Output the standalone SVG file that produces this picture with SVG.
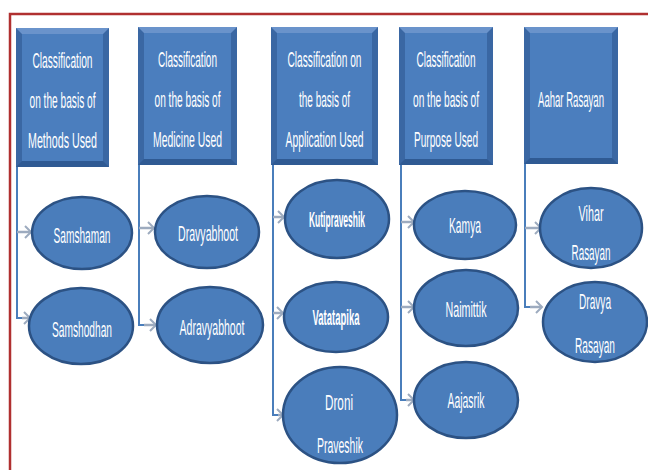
<svg xmlns="http://www.w3.org/2000/svg" width="648" height="470" viewBox="0 0 648 470">
<defs>
<style>
.bo{fill:#3a67a3}
.bt{fill:#6a93cb}
.bb{fill:#2f5a93}
.bf{fill:#4b7ebe}
.el{fill:#4a7dbb;stroke:#2c5284;stroke-width:2.5}
text{font-family:"Liberation Sans",Arial,sans-serif;fill:#ffffff;font-size:22px;text-anchor:middle}
.b{font-weight:bold}
.trunk{stroke:#4a7ebb;stroke-width:2;fill:none}
.branch{stroke:#9dabbf;stroke-width:2.5;fill:none;marker-end:url(#arr)}
.frame{stroke:#b03030;stroke-width:2.5;fill:none}
</style>
<marker id="arr" markerUnits="userSpaceOnUse" markerWidth="10" markerHeight="16" refX="7" refY="7" orient="auto">
<path d="M1,1 L7,7 L1,13" fill="none" stroke="#9dabbf" stroke-width="2"/>
</marker>
</defs>
<rect width="648" height="470" fill="#ffffff"/>
<path class="frame" d="M10,470 V14 H648"/>

<g id="connectors">
<path class="trunk" d="M17,167 V318 H22"/>
<path class="branch" d="M17,232 H31"/>
<path class="branch" d="M22,318 H30"/>
<path class="trunk" d="M139,165 V325 H144"/>
<path class="branch" d="M139,228 H154"/>
<path class="branch" d="M144,325 H156"/>
<path class="trunk" d="M273,165 V415 H278"/>
<path class="branch" d="M273,217 H284"/>
<path class="branch" d="M273,313 H283"/>
<path class="branch" d="M278,415 H283"/>
<path class="trunk" d="M401,165 V400 H406"/>
<path class="branch" d="M401,222 H414"/>
<path class="branch" d="M401,307 H414"/>
<path class="branch" d="M406,400 H414"/>
<path class="trunk" d="M525,164 V307 H530"/>
<path class="branch" d="M525,228 H541"/>
<path class="branch" d="M530,307 H542"/>
</g>

<g id="box-methods">
<rect class="bo" x="16" y="28" width="93" height="139"/>
<polygon class="bt" points="16,28 109,28 103,34 22,34"/>
<polygon class="bb" points="16,167 109,167 103,161 22,161"/>
<rect class="bf" x="22" y="34" width="81" height="127"/>
<text x="62.5" y="68" textLength="60" lengthAdjust="spacingAndGlyphs">Classification</text>
<text x="62.5" y="108" textLength="66" lengthAdjust="spacingAndGlyphs">on the basis of</text>
<text x="62.5" y="148" textLength="69" lengthAdjust="spacingAndGlyphs">Methods Used</text>
</g>
<g id="box-medicine">
<rect class="bo" x="138" y="27" width="99" height="138"/>
<polygon class="bt" points="138,27 237,27 231,33 144,33"/>
<polygon class="bb" points="138,165 237,165 231,159 144,159"/>
<rect class="bf" x="144" y="33" width="87" height="126"/>
<text x="187.5" y="67" textLength="59" lengthAdjust="spacingAndGlyphs">Classification</text>
<text x="187.5" y="107" textLength="66" lengthAdjust="spacingAndGlyphs">on the basis of</text>
<text x="187.5" y="147" textLength="69" lengthAdjust="spacingAndGlyphs">Medicine Used</text>
</g>
<g id="box-application">
<rect class="bo" x="271" y="27" width="107" height="138"/>
<polygon class="bt" points="271,27 378,27 372,33 277,33"/>
<polygon class="bb" points="271,165 378,165 372,159 277,159"/>
<rect class="bf" x="277" y="33" width="95" height="126"/>
<text x="324.5" y="67" textLength="74" lengthAdjust="spacingAndGlyphs">Classification on</text>
<text x="324.5" y="107" textLength="51" lengthAdjust="spacingAndGlyphs">the basis of</text>
<text x="324.5" y="147" textLength="78" lengthAdjust="spacingAndGlyphs">Application Used</text>
</g>
<g id="box-purpose">
<rect class="bo" x="399" y="27" width="94" height="138"/>
<polygon class="bt" points="399,27 493,27 487,33 405,33"/>
<polygon class="bb" points="399,165 493,165 487,159 405,159"/>
<rect class="bf" x="405" y="33" width="82" height="126"/>
<text x="446" y="67" textLength="59" lengthAdjust="spacingAndGlyphs">Classification</text>
<text x="446" y="107" textLength="66" lengthAdjust="spacingAndGlyphs">on the basis of</text>
<text x="446" y="147" textLength="64" lengthAdjust="spacingAndGlyphs">Purpose Used</text>
</g>
<g id="box-aahar">
<rect class="bo" x="524" y="27" width="94" height="137"/>
<polygon class="bt" points="524,27 618,27 612,33 530,33"/>
<polygon class="bb" points="524,164 618,164 612,158 530,158"/>
<rect class="bf" x="530" y="33" width="82" height="125"/>
<text x="571" y="107" textLength="66" lengthAdjust="spacingAndGlyphs">Aahar Rasayan</text>
</g>

<g id="samshaman"><ellipse class="el" cx="82" cy="233" rx="50" ry="36"/><text x="82" y="243" textLength="57" lengthAdjust="spacingAndGlyphs">Samshaman</text></g>
<g id="samshodhan"><ellipse class="el" cx="81" cy="326" rx="52" ry="38"/><text x="82" y="337" textLength="60" lengthAdjust="spacingAndGlyphs">Samshodhan</text></g>
<g id="dravyabhoot"><ellipse class="el" cx="207" cy="232" rx="52" ry="36"/><text x="208" y="241" textLength="60" lengthAdjust="spacingAndGlyphs">Dravyabhoot</text></g>
<g id="adravyabhoot"><ellipse class="el" cx="210" cy="325" rx="53" ry="38"/><text x="212" y="335" textLength="65" lengthAdjust="spacingAndGlyphs">Adravyabhoot</text></g>
<g id="kutipraveshik"><ellipse class="el" cx="337" cy="219" rx="52" ry="39"/><text class="b" x="337" y="227" textLength="56" lengthAdjust="spacingAndGlyphs">Kutipraveshik</text></g>
<g id="vatatapika"><ellipse class="el" cx="336" cy="317" rx="52" ry="35"/><text class="b" x="336" y="325" textLength="47" lengthAdjust="spacingAndGlyphs">Vatatapika</text></g>
<g id="droni"><ellipse class="el" cx="340" cy="415" rx="57" ry="48"/><text x="339" y="410" textLength="28" lengthAdjust="spacingAndGlyphs">Droni</text><text x="340" y="453" textLength="46" lengthAdjust="spacingAndGlyphs">Praveshik</text></g>
<g id="kamya"><ellipse class="el" cx="465" cy="225" rx="51" ry="34"/><text x="465" y="233" textLength="32" lengthAdjust="spacingAndGlyphs">Kamya</text></g>
<g id="naimittik"><ellipse class="el" cx="466" cy="308" rx="52" ry="38"/><text x="466" y="317" textLength="41" lengthAdjust="spacingAndGlyphs">Naimittik</text></g>
<g id="aajasrik"><ellipse class="el" cx="466" cy="400" rx="52" ry="38"/><text x="466" y="408" textLength="37" lengthAdjust="spacingAndGlyphs">Aajasrik</text></g>
<g id="vihar"><ellipse class="el" cx="591" cy="228" rx="51" ry="40"/><text x="591" y="221" textLength="25" lengthAdjust="spacingAndGlyphs">Vihar</text><text x="591" y="260" textLength="39" lengthAdjust="spacingAndGlyphs">Rasayan</text></g>
<g id="dravya-rasayan"><ellipse class="el" cx="595" cy="322" rx="52" ry="40"/><text x="595" y="309" textLength="32" lengthAdjust="spacingAndGlyphs">Dravya</text><text x="595" y="353" textLength="40" lengthAdjust="spacingAndGlyphs">Rasayan</text></g>
</svg>
